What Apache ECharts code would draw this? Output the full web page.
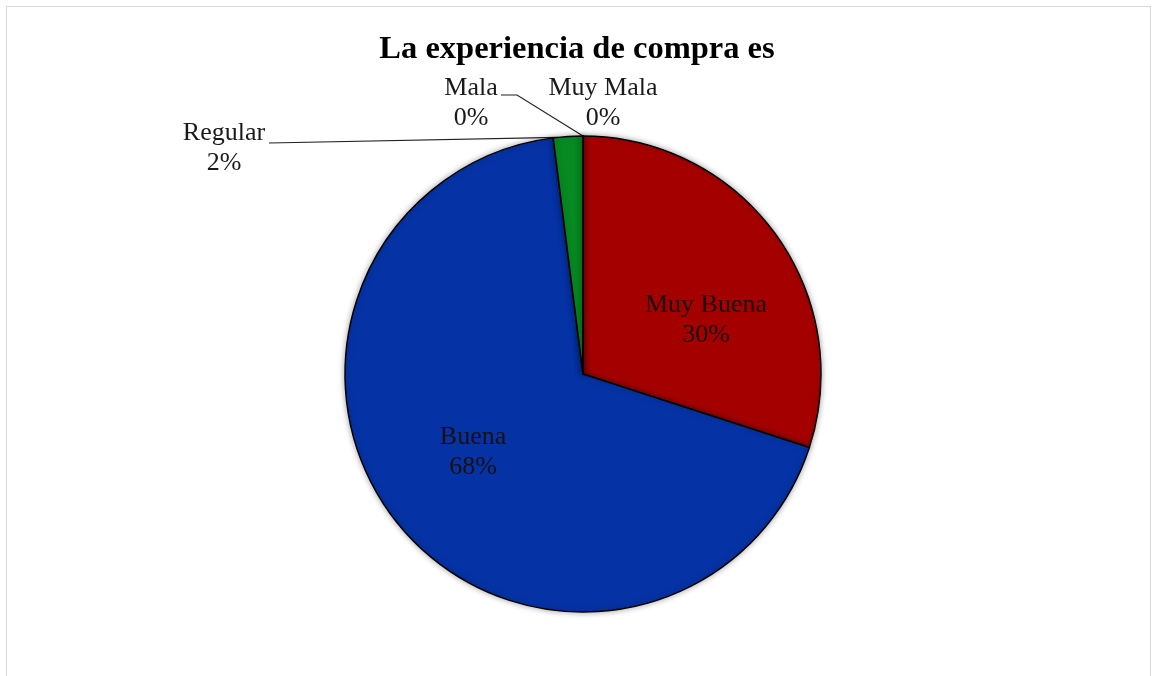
<!DOCTYPE html>
<html>
<head>
<meta charset="utf-8">
<script src="https://cdn.jsdelivr.net/npm/echarts@6/dist/echarts.min.js"></script>
<style>
  html, body { margin: 0; padding: 0; width: 1154px; height: 676px; overflow: hidden; background: #fff; }
  #frame { position: absolute; left: 6px; top: 6px; width: 1145px; height: 700px; border: 1.5px solid #d9d9d9; box-sizing: border-box; pointer-events: none; }
  #chart { position: absolute; left: 0; top: 0; width: 1154px; height: 676px; }
</style>
</head>
<body>
<div id="chart"></div>
<div id="frame"></div>
<script>
const titleText = 'La experiencia de compra es';
const categories = ['Muy Buena', 'Buena', 'Regular', 'Mala', 'Muy Mala'];
const values = [30, 68, 2, 0, 0];
const colors = ['#A50000', '#0533A5', '#078A22', '#7F7F7F', '#5A5A5A'];

// label block centres (styling only)
const labelPos = [[706, 320], [473, 452], [224, 148], [471, 103], [603, 103]];
const insideIdx = [0, 1];

const chart = echarts.init(document.getElementById('chart'), null, { renderer: 'canvas' });

const data = categories.map((c, i) => ({
  name: c,
  value: values[i],
  itemStyle: { color: colors[i] },
  label: insideIdx.includes(i) ? { color: '#1a1010' } : { color: '#1a1a1a' },
  labelLine: { show: i === 2 || i === 3, lineStyle: { color: '#222', width: 1.2 } }
}));

chart.setOption({
  animation: false,
  title: {
    text: titleText,
    left: 'center',
    top: 28,
    textStyle: { fontFamily: 'Liberation Serif', fontWeight: 'bold', fontSize: 32.5, color: '#000' }
  },
  series: [{
    type: 'pie',
    center: [583, 374],
    radius: 238,
    startAngle: 90,
    clockwise: true,
    percentPrecision: 0,
    avoidLabelOverlap: false,
    itemStyle: { borderColor: '#000', borderWidth: 1.5, shadowBlur: 6, shadowColor: 'rgba(0,0,0,0.35)' },
    label: {
      show: true,
      position: 'outside',
      formatter: '{b}\n{d}%',
      fontFamily: 'Liberation Serif',
      fontSize: 26,
      lineHeight: 30,
      align: 'center'
    },
    labelLine: { show: true, length: 10, length2: 10 },
    labelLayout: function (p) {
      const i = p.dataIndex;
      const pos = labelPos[i];
      const out = { x: pos[0], y: pos[1], align: 'center', verticalAlign: 'middle' };
      const start = p.labelLinePoints ? p.labelLinePoints[0] : null;
      if (i === 2 && start) {
        out.labelLinePoints = [[start[0] - 10, start[1] + 1], [pos[0] + 45, pos[1] - 5], [pos[0] + 45, pos[1] - 5]];
      } else if (i === 3 && start) {
        out.labelLinePoints = [start, [pos[0] + 46, pos[1] - 8], [pos[0] + 30, pos[1] - 8]];
      }
      return out;
    },
    data: data
  }]
});
</script>
</body>
</html>
